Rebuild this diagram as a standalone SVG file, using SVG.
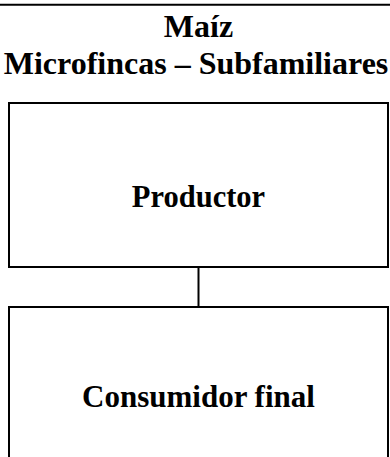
<svg xmlns="http://www.w3.org/2000/svg" width="390" height="457" viewBox="0 0 390 457">
<style>
.box{fill:#fff;stroke:#000;stroke-width:2}
.line{stroke:#000;stroke-width:2;fill:none}
text{font-family:"Liberation Serif","Times New Roman",serif;font-weight:bold;fill:#000;text-anchor:middle}
.t{font-size:32px}
.l{font-size:30.5px}
</style>
<rect width="390" height="457" fill="#fff"/>
<g id="title">
<line class="line" x1="0" y1="4.8" x2="390" y2="4.8"/>
<text class="t" x="198.5" y="37">Maíz</text>
<text class="t" x="196" y="73.5">Microfincas – Subfamiliares</text>
</g>
<g id="connectors">
<line class="line" x1="198.5" y1="267" x2="198.5" y2="307"/>
</g>
<g id="productor">
<rect class="box" x="9" y="103" width="379" height="164"/>
<text class="l" x="198.5" y="206.7">Productor</text>
</g>
<g id="consumidor">
<rect class="box" x="9" y="307" width="379" height="170"/>
<text class="l" x="198.5" y="406.7" style="font-size:31px">Consumidor final</text>
</g>
</svg>
